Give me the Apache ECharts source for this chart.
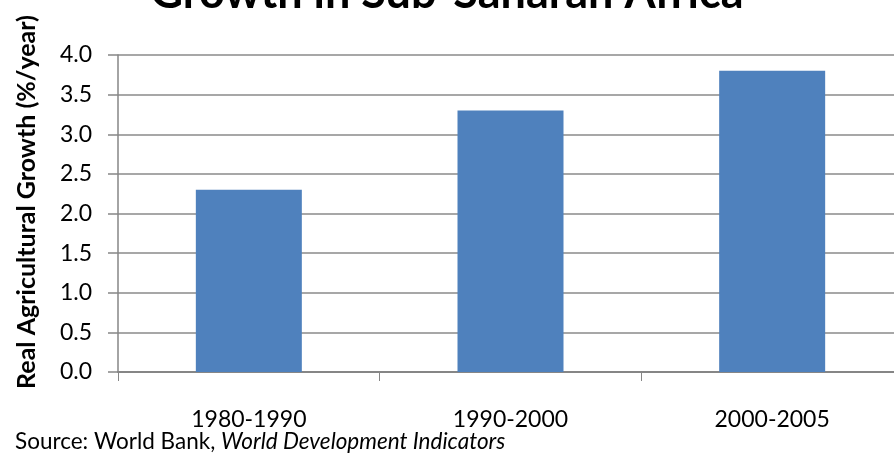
<!DOCTYPE html>
<html>
<head>
<meta charset="utf-8">
<title>Growth in Sub-Saharan Africa</title>
<script src="https://cdn.jsdelivr.net/npm/echarts@6/dist/echarts.min.js"></script>
<style>
  html, body { margin: 0; padding: 0; background: #fff; }
  #chart { width: 894px; height: 456px; }
</style>
</head>
<body>
<div id="chart"></div>
<script>
// Periods and real agricultural growth rates (% per year)
const periods = ['1980-1990', '1990-2000', '2000-2005'];
const growth = [2.3, 3.3, 3.8];

const titleText = 'Growth in Sub-Saharan Africa';
const yAxisTitle = 'Real Agricultural Growth (%/year)';
const sourcePrefix = 'Source: World Bank, ';
const sourceWork = 'World Development Indicators';

const FONT = 'Lato, "Open Sans", sans-serif';

const chart = echarts.init(document.getElementById('chart'), null, { renderer: 'canvas' });

chart.setOption({
  backgroundColor: '#ffffff',
  animation: false,
  title: {
    text: titleText,
    left: 'center',
    top: -34,
    textStyle: { fontFamily: FONT, fontSize: 45, fontWeight: 'bold', color: '#000' }
  },
  // plot area runs past the right edge of the canvas
  grid: { left: 118, top: 55, width: 785, height: 317, containLabel: false, outerBoundsMode: 'none' },
  xAxis: {
    type: 'category',
    data: periods,
    axisLine: { show: true, lineStyle: { color: '#868686', width: 2 } },
    axisTick: { show: true, length: 9, lineStyle: { color: '#868686', width: 1 } },
    axisLabel: { margin: 36, fontFamily: FONT, fontSize: 23, color: '#000' },
    splitLine: { show: false }
  },
  yAxis: {
    type: 'value',
    min: 0,
    max: 4,
    interval: 0.5,
    axisLine: { show: true, lineStyle: { color: '#868686', width: 1.5 } },
    axisTick: { show: true, length: 10, lineStyle: { color: '#868686', width: 1.5 } },
    axisLabel: {
      margin: 26,
      fontFamily: FONT,
      fontSize: 23,
      color: '#000',
      formatter: v => v.toFixed(1)
    },
    splitLine: { show: true, lineStyle: { color: '#8a8a8a', width: 1.5 } }
  },
  series: [{
    type: 'bar',
    data: growth,
    barWidth: 106,
    itemStyle: { color: '#4F81BD' }
  }],
  graphic: [
    {
      type: 'text',
      x: 27,
      y: 202,
      rotation: Math.PI / 2,
      style: {
        text: yAxisTitle,
        fontFamily: FONT,
        fontSize: 25,
        fontWeight: 'bold',
        fill: '#000',
        align: 'center',
        verticalAlign: 'middle'
      }
    },
    {
      type: 'text',
      x: 15,
      y: 442,
      style: {
        text: '{n|' + sourcePrefix + '}{i|' + sourceWork + '}',
        verticalAlign: 'middle',
        rich: {
          n: { fontFamily: FONT, fontSize: 22.5, fill: '#000', color: '#000' },
          i: { fontFamily: FONT, fontSize: 22.5, fontStyle: 'italic', fill: '#000', color: '#000' }
        }
      }
    }
  ]
});
</script>
</body>
</html>
